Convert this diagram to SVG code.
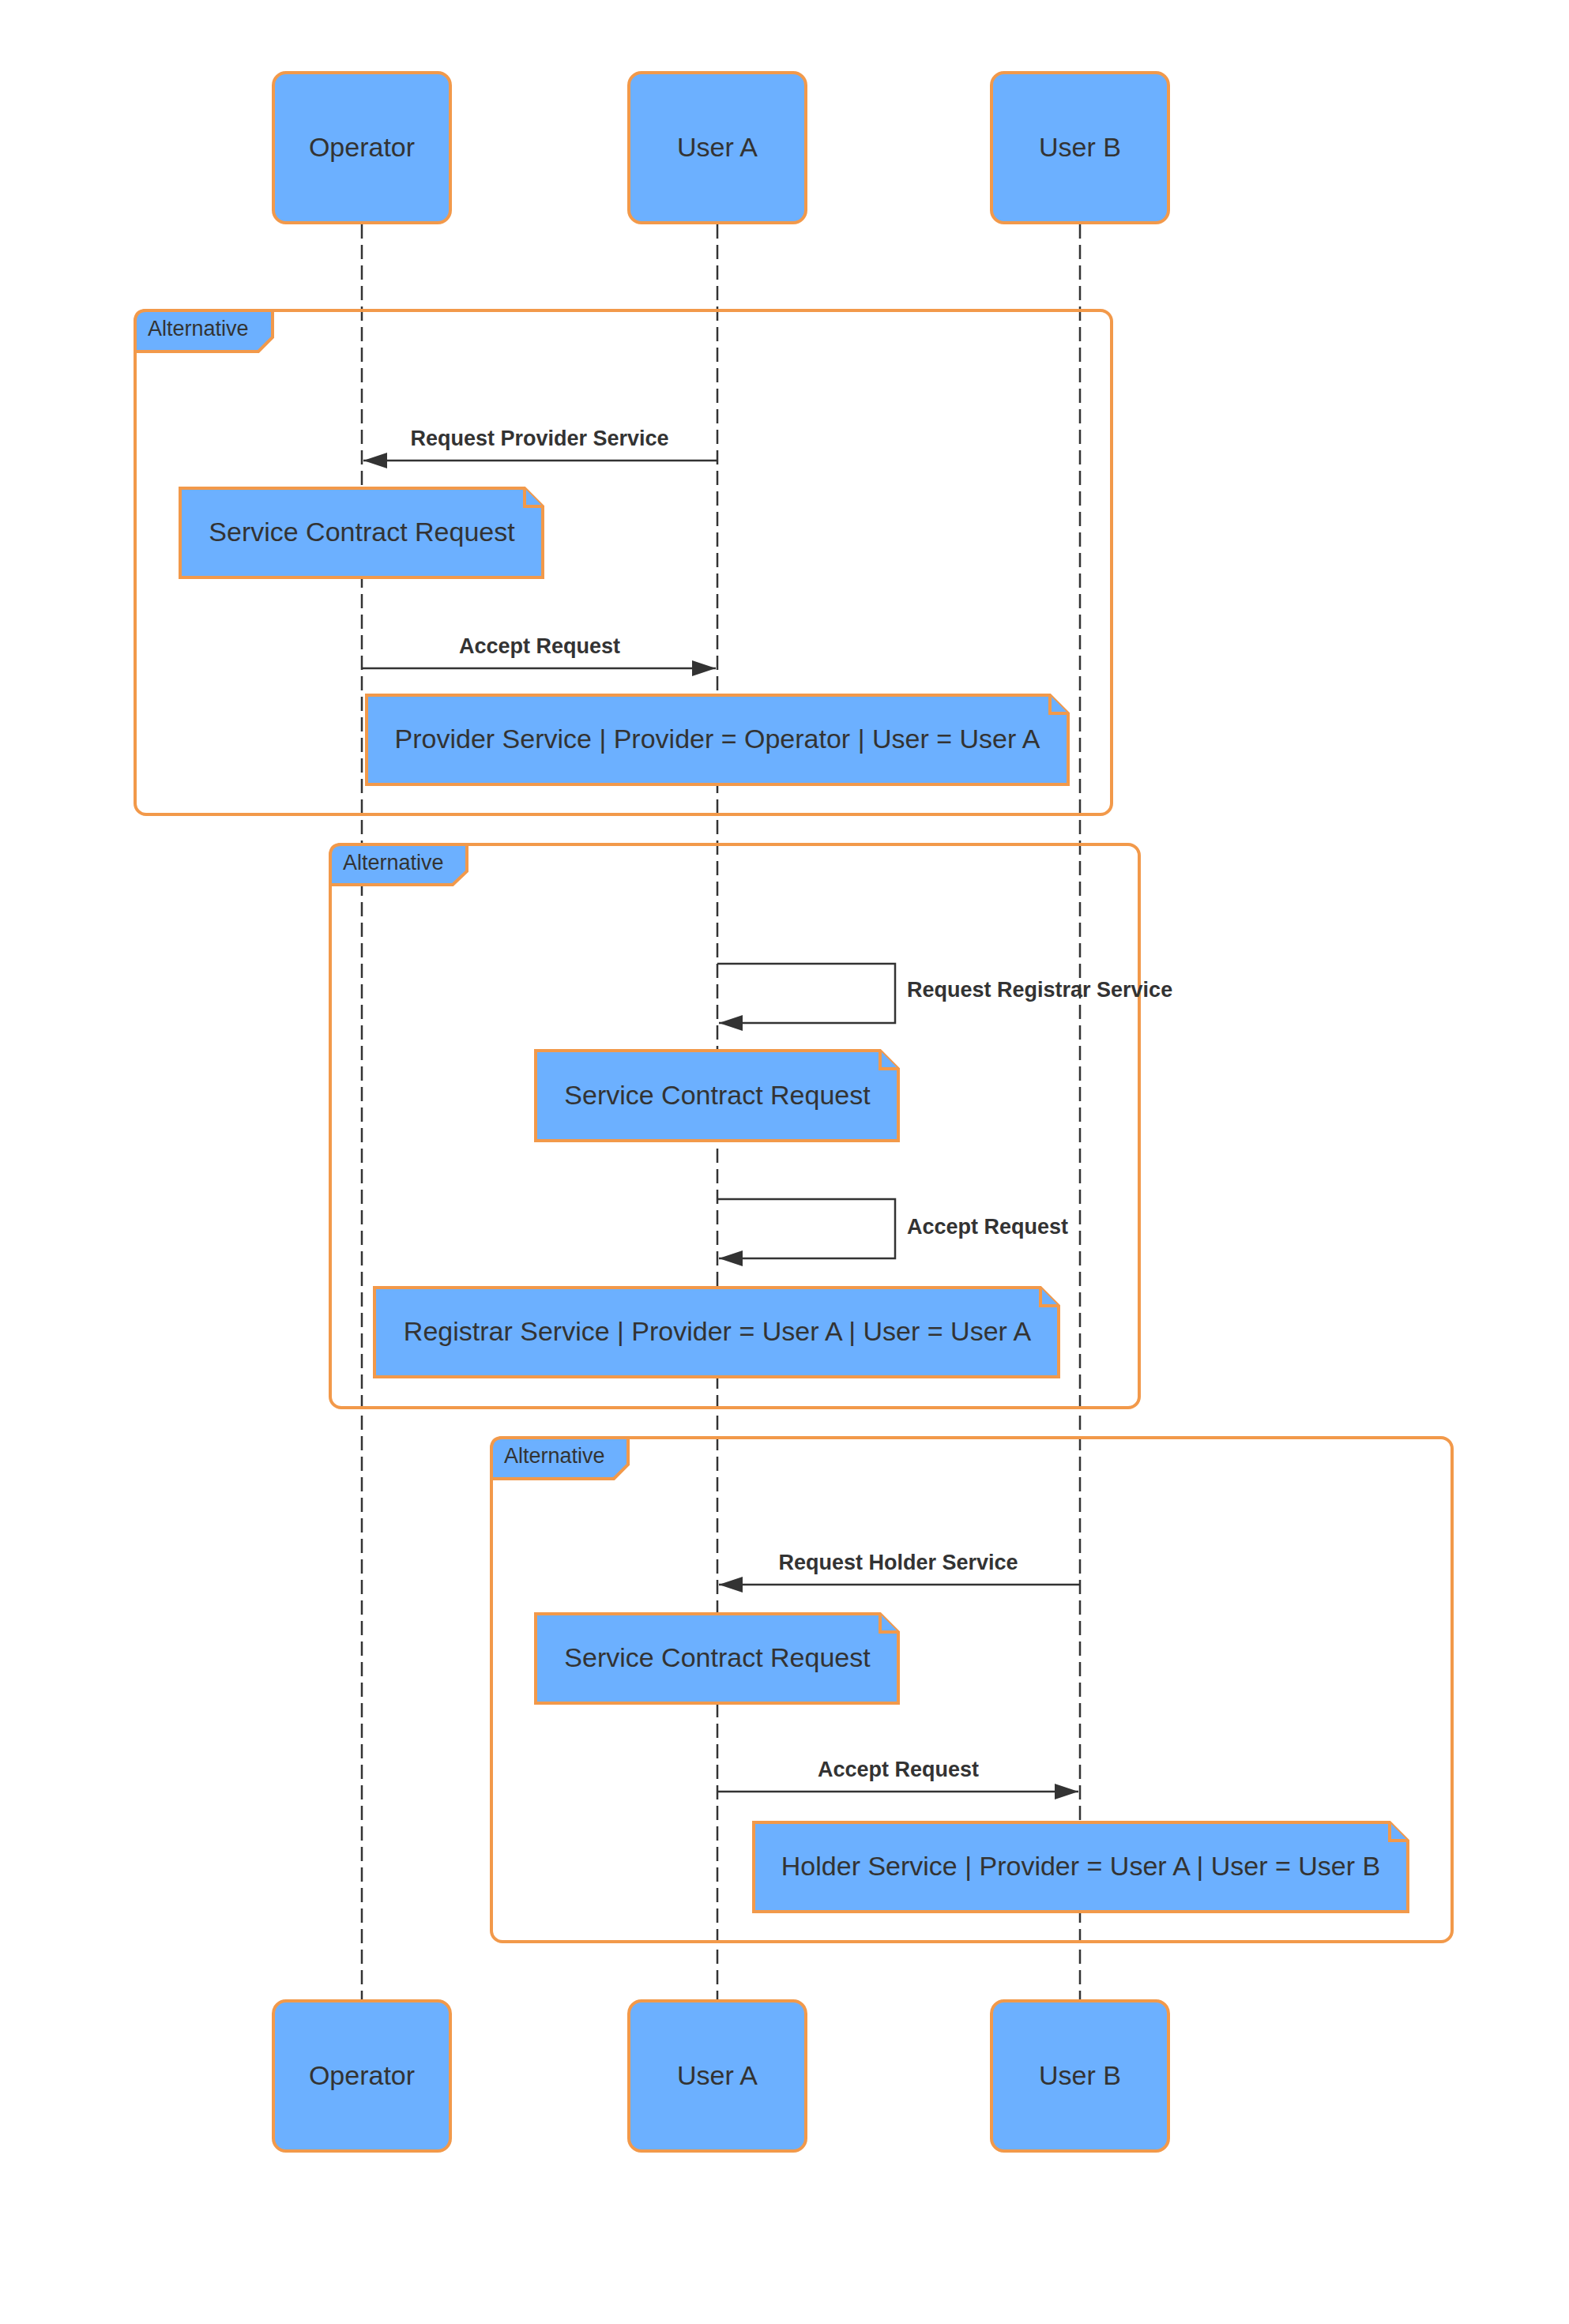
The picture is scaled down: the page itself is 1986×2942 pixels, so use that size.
<svg xmlns="http://www.w3.org/2000/svg" width="1986" height="2942" viewBox="0 0 1986 2942">
<style>
.box{fill:#6cb0ff;stroke:#f2994a;stroke-width:4}
.frame{fill:none;stroke:#f2994a;stroke-width:4}
.life{stroke:#333;stroke-width:2.5;stroke-dasharray:18 8;fill:none}
.msg{stroke:#333;stroke-width:2.5;fill:none}
.t{font-family:"Liberation Sans",Arial,sans-serif;fill:#333}
.actor{font-size:34px;text-anchor:middle}
.note{font-size:34px;text-anchor:middle}
.lbl{font-size:27px;font-weight:bold}
.alt{font-size:27px}
</style>
<defs>
<marker id="ah" markerWidth="30" markerHeight="20" refX="30" refY="10" orient="auto" markerUnits="userSpaceOnUse">
<path d="M0,0 L30,10 L0,20 Z" fill="#333"/>
</marker>
</defs>
<rect width="1986" height="2942" fill="#fff"/>
<g id="lifelines">
<line class="life" x1="458" y1="284" x2="458" y2="2533"/>
<line class="life" x1="908" y1="284" x2="908" y2="2533"/>
<line class="life" x1="1367" y1="284" x2="1367" y2="2533"/>
</g>
<g id="frame1">
<rect class="frame" x="171" y="393" width="1236" height="638" rx="14"/>
<path class="box" d="M171,407 Q171,393 185,393 L345,393 L345,427 L327,445 L171,445 Z"/>
<text class="t alt" x="187" y="425">Alternative</text>
</g>
<g id="frame2">
<rect class="frame" x="418" y="1069" width="1024" height="713" rx="14"/>
<path class="box" d="M418,1083 Q418,1069 432,1069 L591,1069 L591,1103 L573,1120 L418,1120 Z"/>
<text class="t alt" x="434" y="1101">Alternative</text>
</g>
<g id="frame3">
<rect class="frame" x="622" y="1820" width="1216" height="638" rx="14"/>
<path class="box" d="M622,1834 Q622,1820 636,1820 L795,1820 L795,1854 L777,1872 L622,1872 Z"/>
<text class="t alt" x="638" y="1852">Alternative</text>
</g>
<g id="connectors">
<line class="msg" x1="908" y1="583" x2="460" y2="583" marker-end="url(#ah)"/>
<text class="t lbl" x="683" y="564" text-anchor="middle">Request Provider Service</text>
<line class="msg" x1="458" y1="846" x2="906" y2="846" marker-end="url(#ah)"/>
<text class="t lbl" x="683" y="827" text-anchor="middle">Accept Request</text>
<path class="msg" d="M908,1220 H1133 V1295 H910" marker-end="url(#ah)"/>
<text class="t lbl" x="1148" y="1262">Request Registrar Service</text>
<path class="msg" d="M908,1518 H1133 V1593 H910" marker-end="url(#ah)"/>
<text class="t lbl" x="1148" y="1562">Accept Request</text>
<line class="msg" x1="1367" y1="2006" x2="910" y2="2006" marker-end="url(#ah)"/>
<text class="t lbl" x="1137" y="1987" text-anchor="middle">Request Holder Service</text>
<line class="msg" x1="908" y1="2268" x2="1365" y2="2268" marker-end="url(#ah)"/>
<text class="t lbl" x="1137" y="2249" text-anchor="middle">Accept Request</text>
</g>
<g id="note1">
<path class="box" d="M228,618 H664 L687,641 V731 H228 Z"/><path class="box" d="M664,618 V641 H687"/>
<text class="t note" x="458" y="685">Service Contract Request</text>
</g>
<g id="note2">
<path class="box" d="M464,880 H1329 L1352,903 V993 H464 Z"/><path class="box" d="M1329,880 V903 H1352"/>
<text class="t note" x="908" y="947">Provider Service | Provider = Operator | User = User A</text>
</g>
<g id="note3">
<path class="box" d="M678,1330 H1114 L1137,1353 V1444 H678 Z"/><path class="box" d="M1114,1330 V1353 H1137"/>
<text class="t note" x="908" y="1398">Service Contract Request</text>
</g>
<g id="note4">
<path class="box" d="M474,1630 H1317 L1340,1653 V1743 H474 Z"/><path class="box" d="M1317,1630 V1653 H1340"/>
<text class="t note" x="908" y="1697">Registrar Service | Provider = User A | User = User A</text>
</g>
<g id="note5">
<path class="box" d="M678,2043 H1114 L1137,2066 V2156 H678 Z"/><path class="box" d="M1114,2043 V2066 H1137"/>
<text class="t note" x="908" y="2110">Service Contract Request</text>
</g>
<g id="note6">
<path class="box" d="M954,2307 H1759 L1782,2330 V2420 H954 Z"/><path class="box" d="M1759,2307 V2330 H1782"/>
<text class="t note" x="1368" y="2374">Holder Service | Provider = User A | User = User B</text>
</g>
<g id="operator-top"><rect class="box" x="346" y="92" width="224" height="190" rx="16"/><text class="t actor" x="458" y="198">Operator</text></g>
<g id="usera-top"><rect class="box" x="796" y="92" width="224" height="190" rx="16"/><text class="t actor" x="908" y="198">User A</text></g>
<g id="userb-top"><rect class="box" x="1255" y="92" width="224" height="190" rx="16"/><text class="t actor" x="1367" y="198">User B</text></g>
<g id="operator-bottom"><rect class="box" x="346" y="2533" width="224" height="190" rx="16"/><text class="t actor" x="458" y="2639">Operator</text></g>
<g id="usera-bottom"><rect class="box" x="796" y="2533" width="224" height="190" rx="16"/><text class="t actor" x="908" y="2639">User A</text></g>
<g id="userb-bottom"><rect class="box" x="1255" y="2533" width="224" height="190" rx="16"/><text class="t actor" x="1367" y="2639">User B</text></g>
</svg>
